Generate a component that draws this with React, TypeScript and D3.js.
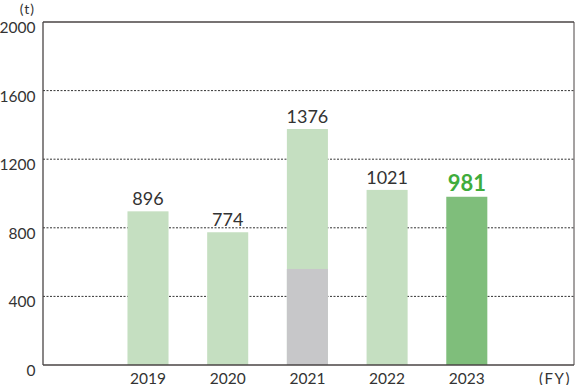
import React from "react";
import * as d3 from "d3";

const years = ["2019", "2020", "2021", "2022", "2023"];
const totals = [896, 774, 1376, 1021, 981];
const grayPart = [0, 0, 560, 0, 0];
const yTicks = [0, 400, 800, 1200, 1600, 2000];

const W = 575;
const H = 385;
const left = 43;
const right = 574;
const top = 22;
const bottom = 365;
const font = "Lato, 'Noto Sans', sans-serif";

export default function App() {
  const y = d3.scaleLinear().domain([0, 2000]).range([bottom, top]);
  const step = 79.7;
  const x = d3
    .scaleBand<string>()
    .domain(years)
    .range([148 - step / 2, 148 - step / 2 + step * years.length])
    .paddingInner(0.485)
    .paddingOuter(0.2425);

  return (
    <svg
      width={W}
      height={H}
      style={{ position: "absolute", left: 0, top: 0 }}
      viewBox={`0 0 ${W} ${H}`}
    >
      <rect width={W} height={H} fill="#fff" />
      {yTicks
        .filter((t) => t !== 0 && t !== 2000)
        .map((t) => (
          <line
            key={t}
            x1={left}
            x2={right}
            y1={y(t)}
            y2={y(t)}
            stroke="#333"
            strokeWidth={1}
            strokeDasharray="2,1.5"
          />
        ))}
      {years.map((yr, i) => {
        const bx = x(yr)!;
        const bw = x.bandwidth();
        const isLast = i === years.length - 1;
        return (
          <g key={yr}>
            <rect
              x={bx}
              width={bw}
              y={y(totals[i])}
              height={y(0) - y(totals[i])}
              fill={isLast ? "#7fbe7b" : "#c5dfc1"}
            />
            {grayPart[i] > 0 && (
              <rect
                x={bx}
                width={bw}
                y={y(grayPart[i])}
                height={y(0) - y(grayPart[i])}
                fill="#c7c7c9"
              />
            )}
            <text
              x={bx + bw / 2}
              y={y(totals[i]) - 6}
              textAnchor="middle"
              fontFamily={font}
              fontSize={isLast ? 22 : 18}
              fontWeight={isLast ? 700 : 400}
              fill={isLast ? "#3fac3c" : "#333"}
            >
              {totals[i]}
            </text>
            <text
              x={bx + bw / 2}
              y={383.5}
              textAnchor="middle"
              fontFamily={font}
              fontSize={15.5}
              fill="#333"
            >
              {yr}
            </text>
          </g>
        );
      })}
      {/* frame */}
      <line x1={left} x2={right} y1={top} y2={top} stroke="#4a4545" strokeWidth={1.3} />
      <line x1={right} x2={right} y1={top} y2={bottom} stroke="#4a4545" strokeWidth={1} />
      <line x1={left} x2={left} y1={top} y2={bottom} stroke="#4a4545" strokeWidth={1.3} />
      <line x1={left} x2={right} y1={bottom} y2={bottom} stroke="#4a4545" strokeWidth={1.3} />
      {yTicks.map((t) => (
        <text
          key={t}
          x={35.5}
          y={y(t) + 11}
          textAnchor="end"
          fontFamily={font}
          fontSize={15.5}
          fill="#333"
        >
          {t}
        </text>
      ))}
      <text x={35} y={13.5} textAnchor="end" fontFamily={font} fontSize={14} letterSpacing={1} fill="#333">
        (t)
      </text>
      <text
        x={571}
        y={383.5}
        textAnchor="end"
        fontFamily={font}
        fontSize={15}
        letterSpacing={1.5}
        fill="#333"
      >
        (FY)
      </text>
    </svg>
  );
}
